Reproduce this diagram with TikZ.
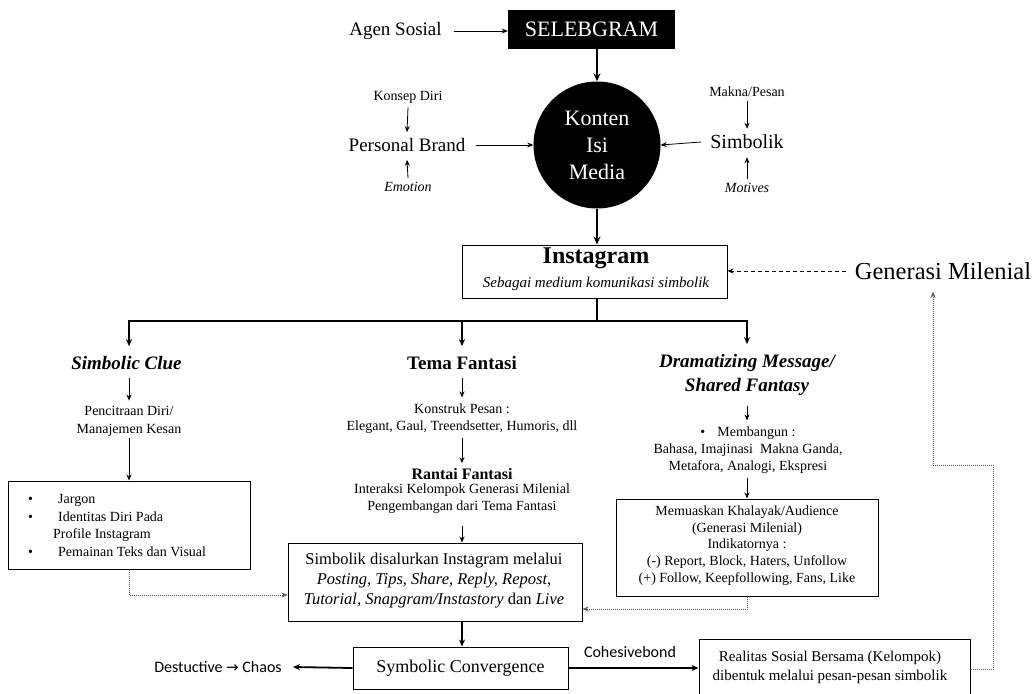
\documentclass[tikz,border=0pt]{standalone}
\usepackage{fontspec}
\setmainfont{Liberation Serif}
\newfontfamily\calib{Carlito}
\newfontfamily\dvs{DejaVu Sans}
\usetikzlibrary{arrows.meta}
\newcommand\fsz[2]{\fontsize{#1}{#2}\selectfont}
\tikzset{
  lbl/.style={inner sep=0pt, align=center},
  arr/.style={-{Stealth[length=6pt,width=5pt]}, line width=0.8pt},
  bigarr/.style={-{Stealth[length=8pt,width=7pt]}, line width=2.6pt},
  midarr/.style={-{Stealth[length=7pt,width=6pt]}, line width=1.8pt},
  thickline/.style={line width=2.6pt},
  dotarr/.style={-{Stealth[length=6pt,width=5pt]}, line width=0.8pt, gray!70!black, dash pattern=on 1pt off 1pt},
  dasharr/.style={-{Stealth[length=6pt,width=5pt]}, line width=0.8pt, dash pattern=on 4pt off 3pt},
  box/.style={draw, line width=1pt, inner sep=0pt},
}
\begin{document}
\begin{tikzpicture}[x=1pt,y=-1pt]
\useasboundingbox (0,0) rectangle (1035,693);
\clip (0,0) rectangle (1035,693);

% top
\node[fill=black, minimum width=167pt, minimum height=39pt, inner sep=0pt, text=white, font=\fsz{22}{24}] (sel) at (591.5,29.5) {SELEBGRAM};
\node[lbl, font=\fsz{19}{22}] (agen) at (395.5,31) {Agen Sosial};
\draw[arr] ([xshift=12pt]agen.east) -- (agen.east -| sel.west);

\node[circle, fill=black, minimum size=127pt, inner sep=0pt, text=white, align=center, font=\fsz{22}{27}] (konten) at (597,145) {Konten\\Isi\\Media};
\draw[bigarr] (konten.north |- sel.south) -- (konten.north);

\node[lbl, font=\fsz{19}{22}] (pb) at (407,145) {Personal Brand};
\node[lbl, font=\fsz{14}{16}] (kd) at (408,97) {Konsep Diri};
\node[lbl, font=\fsz{14}{16}\itshape] (emo) at (408,187) {Emotion};
\draw[arr] ([xshift=10pt]pb.east) -- (konten.west);
\draw[arr] ([yshift=-4pt]kd.south) -- ([yshift=6pt]pb.north);
\draw[arr] ([yshift=4pt]emo.north) -- ([yshift=-8pt]pb.south);

\node[lbl, font=\fsz{20}{22}] (simb) at (747,142) {Simbolik};
\node[lbl, font=\fsz{14}{16}] (makna) at (747,92) {Makna/Pesan};
\node[lbl, font=\fsz{14}{16}\itshape] (motif) at (747,188) {Motives};
\draw[arr] ([xshift=-9pt]simb.west) -- (konten.east);
\draw[arr] ([yshift=-4pt]makna.south) -- ([yshift=6pt]simb.north);
\draw[arr] ([yshift=4pt]motif.north) -- ([yshift=-8pt]simb.south);

% instagram
\node[box, minimum width=265pt, minimum height=53pt] (ig) at (594.5,271.5) {};
\node[lbl, font=\fsz{24}{26}\bfseries] (igt) at (596,258) {Instagram};
\node[lbl, font=\fsz{15}{17}\itshape] (igs) at (596,284) {Sebagai medium komunikasi simbolik};
\draw[bigarr] (konten.south) -- (konten.south |- ig.north);

\node[lbl, font=\fsz{24.5}{27}] (gen) at (943,271) {Generasi Milenial};
\draw[dasharr] ([xshift=-9pt]gen.west) -- (ig.east |- gen.west);

% branches
\coordinate (br) at (597,321);
\coordinate (b1) at (129,321);
\coordinate (b2) at (462,321);
\coordinate (b3) at (747,321);
\draw[thickline] (konten.south |- ig.south) -- (br);
\draw[thickline] (b1) -- (b3);

\node[lbl, font=\fsz{19}{22}\bfseries\itshape] (sc) at (126.5,363) {Simbolic Clue};
\node[lbl, font=\fsz{19}{22}\bfseries] (tf) at (462,363) {Tema Fantasi};
\node[lbl, font=\fsz{19}{24}\bfseries\itshape] (dm) at (747,375) {Dramatizing Message/\\Shared Fantasy};
\draw[midarr] ([yshift=1.2pt]b1) -- ([yshift=10pt]b1 |- sc.north);
\draw[midarr] ([yshift=1.2pt]b2) -- ([yshift=10pt]b2 |- tf.north);
\draw[midarr] ([yshift=1.2pt]b3) -- ([yshift=10pt]b3 |- dm.north);

% left column
\node[lbl, font=\fsz{14}{18}] (pc) at (129,421) {Pencitraan Diri/\\Manajemen Kesan};
\draw[arr] ([yshift=-8pt]sc.south -| pc) -- ([yshift=5pt]pc.north);
\node[box, minimum width=242pt, minimum height=88pt] (lb) at (129,525) {};
\draw[arr] ([yshift=-2pt]pc.south) -- (lb.north);
\begin{scope}[every node/.style={anchor=base west, inner sep=0pt, font=\fsz{14}{16}}]
\node (l1b) at (28,503) {•}; \node (l1) at (58,503) {Jargon};
\node (l2b) at (28,521) {•}; \node (l2) at (58,521) {Identitas Diri Pada};
\node (l3) at (53,538) {Profile Instagram};
\node (l4b) at (28,556) {•}; \node (l4) at (58,556) {Pemainan Teks dan Visual};
\end{scope}

% middle column
\node[lbl, font=\fsz{14}{17}] (kp) at (462,418.5) {Konstruk Pesan :\\Elegant, Gaul, Treendsetter, Humoris, dll};
\draw[arr] ([yshift=-8pt]tf.south) -- ([yshift=6pt]kp.north);
\node[lbl, font=\fsz{16}{18}\bfseries] (rf) at (462,474) {Rantai Fantasi};
\draw[arr] ([yshift=-4pt]kp.south) -- ([yshift=5pt]rf.north);
\node[lbl, font=\fsz{14}{17}] (ik) at (462,498.5) {Interaksi Kelompok Generasi Milenial\\Pengembangan dari Tema Fantasi};
\node[box, minimum width=294pt, minimum height=78pt] (mb) at (435,582) {};
\node[lbl, font=\fsz{16.5}{20}] (mbt) at (434,581) {Simbolik disalurkan Instagram melalui\\\textit{Posting, Tips, Share, Reply, Repost,}\\\textit{Tutorial, Snapgram/Instastory} dan \textit{Live}};
\draw[arr] ([yshift=-12pt]ik.south) -- (mb.north -| ik.south);
\node[box, minimum width=215pt, minimum height=42pt, font=\fsz{18}{20}] (scv) at (460.5,668) {Symbolic Convergence};
\draw[midarr] (mb.south -| ik.south) -- (scv.north -| ik.south);

% right column
\node[lbl, font=\fsz{14}{17}] (mem) at (748,450) {\textbullet\hspace{12pt}Membangun :\\Bahasa, Imajinasi\ \ Makna Ganda,\\Metafora, Analogi, Ekspresi};
\draw[arr] ([yshift=-10pt]dm.south) -- ([yshift=6pt]mem.north -| dm.south);
\node[box, minimum width=262pt, minimum height=97pt] (rb) at (747,547.5) {};
\node[lbl, font=\fsz{14}{16.8}] (rbt) at (747,545.5) {Memuaskan Khalayak/Audience\\(Generasi Milenial)\\Indikatornya :\\(-) Report, Block, Haters, Unfollow\\(+) Follow, Keepfollowing, Fans, Like};
\draw[arr] ([yshift=-4pt]mem.south -| rb.north) -- (rb.north);

% dotted feedback
\draw[dotarr] (rb.south) |- ([yshift=-27pt]mb.east);
\draw[dotarr] (lb.south) |- ([yshift=-13pt]mb.west);

% bottom
\node[lbl, font=\calib\fsz{16}{18}] (dc) at (218,667) {Destuctive {\dvs\fsz{15}{18}→} Chaos};
\draw[midarr] (scv.west) -- ([xshift=11pt]dc.east);
\node[lbl, font=\calib\fsz{16}{18}] (coh) at (630,652) {Cohesivebond};
\node[box, minimum width=271pt, minimum height=66pt] (rs) at (834.5,672) {};
\node[lbl, font=\fsz{15}{19}] (rst) at (830,667.5) {Realitas Sosial Bersama (Kelompok)\\dibentuk melalui pesan-pesan simbolik};
\draw[midarr] (scv.east) -- (scv.east -| rs.west);

\coordinate (c1) at (993,669);
\coordinate (c2) at (993,465);
\coordinate (c3) at (933,465);
\draw[dotarr] ([yshift=3pt]rs.east) -- (c1) -- (c2) -- (c3) -- ([yshift=-12pt]gen.south -| c3);
\end{tikzpicture}
\end{document}
